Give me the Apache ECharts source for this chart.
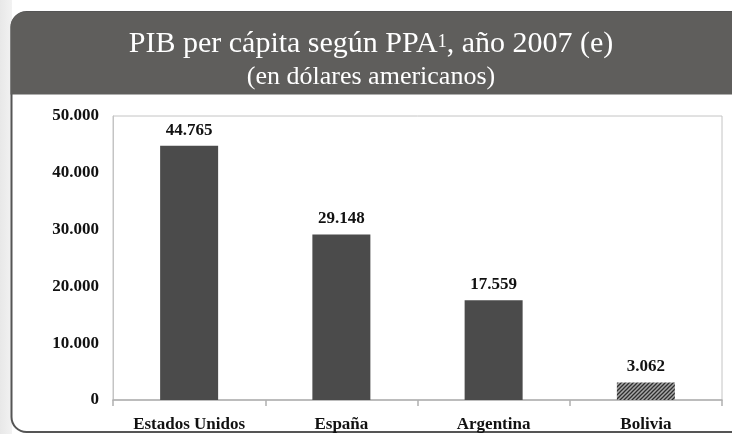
<!DOCTYPE html>
<html><head><meta charset="utf-8">
<script src="https://cdn.jsdelivr.net/npm/echarts@6/dist/echarts.min.js"></script>
<style>html,body{margin:0;padding:0;background:#fff}#c{width:732px;height:434px}</style>
</head><body><div id="c"></div>
<script>
const categories = ['Estados Unidos', 'España', 'Argentina', 'Bolivia'];
const values = [44765, 29148, 17559, 3062];
const yTicks = [0, 10000, 20000, 30000, 40000, 50000];

function fmt(v){ return String(v).replace(/\B(?=(\d{3})+(?!\d))/g, '.'); }

const pc = document.createElement('canvas');
pc.width = 4; pc.height = 4;
const pctx = pc.getContext('2d');
pctx.fillStyle = '#a8a8a8'; pctx.fillRect(0,0,4,4);
pctx.strokeStyle = '#2e2e2e'; pctx.lineWidth = 1.3;
pctx.beginPath();
pctx.moveTo(0,4); pctx.lineTo(4,0);
pctx.moveTo(-1,1); pctx.lineTo(1,-1);
pctx.moveTo(3,5); pctx.lineTo(5,3);
pctx.stroke();

const serif = '"Liberation Serif", "Times New Roman", serif';
const chart = echarts.init(document.getElementById('c'), null, {renderer:'canvas'});
chart.setOption({
  animation: false,
  backgroundColor: '#fff',
  graphic: [
    {type:'rect', z:-10, shape:{x:0,y:0,width:12,height:434}, style:{fill:new echarts.graphic.LinearGradient(0,0,1,0,[{offset:0,color:'#e8e8e8'},{offset:1,color:'#f2f2f2'}])}},
    {type:'rect', z:-9, shape:{x:11.5,y:12,width:740,height:420,r:15}, style:{fill:'#fff', stroke:'#555', lineWidth:2}},
    {type:'rect', z:-8, shape:{x:10.5,y:12,width:740,height:82.5,r:[15,0,0,0]}, style:{fill:'#5f5e5c'}}
  ],
  title: [{
    text: 'PIB per cápita según PPA{sup|1}, año 2007 (e)',
    left: 366, top: 24, textAlign: 'center',
    textStyle: {
      color:'#fff', fontFamily: serif, fontWeight:'normal', fontSize: 30,
      rich: {
        sup: {fontSize: 18, color:'#fff', fontFamily: serif, padding:[0,0,4,0]}
      }
    }
  }, {
    text: '(en dólares americanos)',
    left: 366, top: 59, textAlign: 'center',
    textStyle: {color:'#fff', fontFamily: serif, fontWeight:'normal', fontSize: 26}
  }],
  grid: {left:113, right:10, top:116, bottom:34, show:true, borderColor:'#c4c4c4', borderWidth:1},
  xAxis: {
    type:'category', data: categories,
    axisLine:{lineStyle:{color:'#b0b0b0', width:1.5}},
    axisTick:{show:true, length:6, lineStyle:{color:'#b0b0b0', width:1.5}},
    axisLabel:{color:'#111', fontFamily:serif, fontWeight:'bold', fontSize:17, margin:16}
  },
  yAxis: {
    type:'value', min:0, max:50000, interval:10000,
    splitLine:{show:false},
    axisLine:{show:true, lineStyle:{color:'#c4c4c4'}},
    axisTick:{show:false},
    axisLabel:{color:'#111', fontFamily:serif, fontWeight:'bold', fontSize:17, margin:14,
      formatter: v => fmt(v)}
  },
  series: [{
    type:'bar', barWidth:58,
    data: values.map((v,i) => i === 3 ? {value:v, itemStyle:{color:{image:pc, repeat:'repeat'}}} : v),
    itemStyle:{color:'#4b4b4b'},
    label:{show:true, position:'top', distance:7, color:'#111', fontFamily:serif, fontWeight:'bold', fontSize:17,
      formatter: p => fmt(p.value)}
  }]
});
</script></body></html>
